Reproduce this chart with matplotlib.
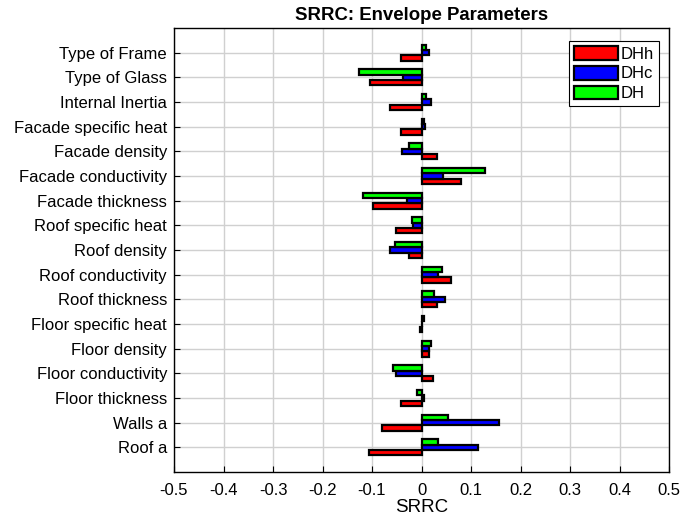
import numpy as np
import matplotlib.pyplot as plt

plt.rcParams["font.family"] = ["Liberation Sans", "DejaVu Sans"]

# Parametri di involucro, dall'alto verso il basso
parametri = [
    "Type of Frame", "Type of Glass", "Internal Inertia", "Facade specific heat",
    "Facade density", "Facade conductivity", "Facade thickness", "Roof specific heat",
    "Roof density", "Roof conductivity", "Roof thickness", "Floor specific heat",
    "Floor density", "Floor conductivity", "Floor thickness", "Walls a", "Roof a",
]

srrc_dhh = [-0.042, -0.104, -0.064, -0.042, 0.031, 0.079, -0.098, -0.051,
            -0.025, 0.060, 0.031, -0.004, 0.015, 0.023, -0.042, -0.080, -0.107]
srrc_dhc = [0.016, -0.037, 0.019, 0.007, -0.040, 0.043, -0.029, -0.018,
            -0.064, 0.033, 0.048, 0.002, 0.015, -0.052, 0.005, 0.157, 0.115]
srrc_dh = [0.009, -0.127, 0.009, 0.005, -0.026, 0.128, -0.119, -0.019,
           -0.054, 0.042, 0.025, 0.006, 0.020, -0.057, -0.009, 0.053, 0.033]

serie = [("DHh", srrc_dhh, "#ff0000"), ("DHc", srrc_dhc, "#0000ff"), ("DH", srrc_dh, "#00ff00")]

fig = plt.figure(figsize=(6.82, 5.2), dpi=100)
ax = fig.add_axes([174 / 682, 48 / 520, 495 / 682, 444 / 520])

y = np.arange(1, len(parametri) + 1)
h = 0.22
offset = {"DHh": h, "DHc": 0.0, "DH": -h}
for nome, valori, colore in serie:
    ax.barh(y + offset[nome], valori, height=h, color=colore,
            edgecolor="black", linewidth=1.6, label=nome, zorder=3)

ax.set_xlim(-0.5, 0.5)
ax.set_ylim(18, 0)
ax.set_xticks(np.round(np.arange(-0.5, 0.51, 0.1), 1))
ax.set_xticklabels(["-0.5", "-0.4", "-0.3", "-0.2", "-0.1", "0",
                    "0.1", "0.2", "0.3", "0.4", "0.5"])
ax.set_yticks(y)
ax.set_yticklabels(parametri)
ax.tick_params(labelsize=12, direction="in", length=4, width=0.8)
ax.tick_params(axis="x", pad=8)
ax.tick_params(axis="y", pad=5)
ax.grid(True, color="#d0d0d0", linewidth=1.0, zorder=0)
ax.set_axisbelow(True)
for s in ax.spines.values():
    s.set_linewidth(1.0)

ax.set_xlabel("SRRC", fontsize=13.5, labelpad=1)
ax.set_title("SRRC: Envelope Parameters", fontsize=13.4, fontweight="bold", pad=6)

leg = ax.legend(loc="upper right", fontsize=12, handlelength=2.6, handleheight=0.9,
                borderpad=0.3, labelspacing=0.25, handletextpad=0.2,
                fancybox=False, edgecolor="black", framealpha=1,
                borderaxespad=0, bbox_to_anchor=(0.98, 0.971))
leg.get_frame().set_linewidth(0.8)

fig.savefig("out.png", dpi=100)
